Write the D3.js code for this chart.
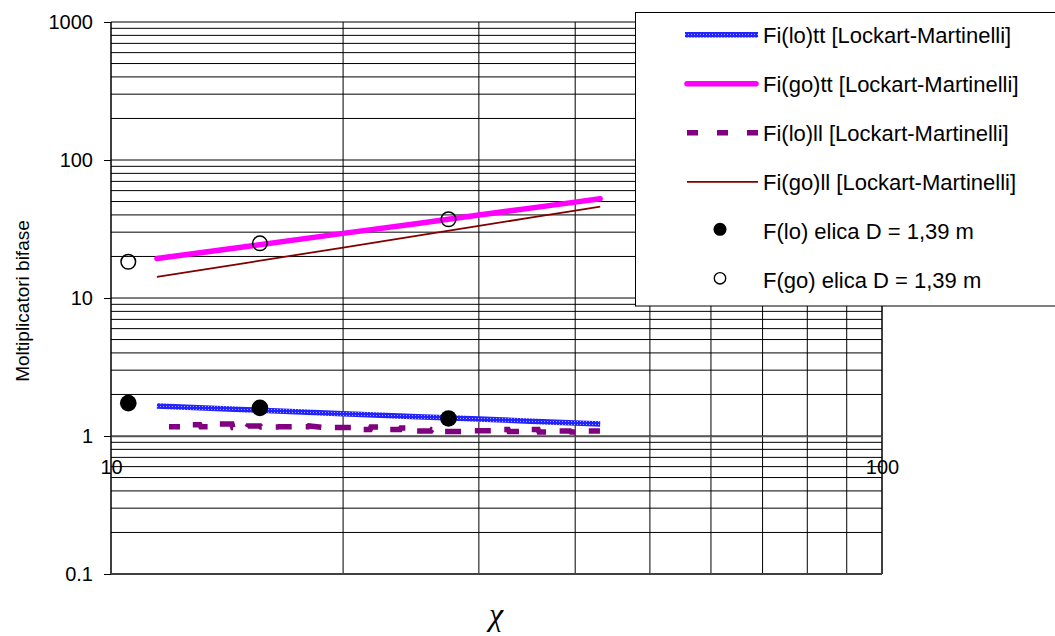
<!DOCTYPE html>
<html>
<head>
<meta charset="utf-8">
<script src="https://cdn.jsdelivr.net/npm/d3@7"></script>
<style>
  html, body { margin: 0; padding: 0; background: #fff; }
  svg { display: block; }
  text { font-family: Arial, "Liberation Sans", sans-serif; fill: #000; }
</style>
</head>
<body>
<svg id="chart" width="1055" height="636"></svg>
<script>
// ---- data ----
const lineX   = [11.47, 15, 20, 25, 30, 35, 40, 43.1];
const fiLoTT  = [1.65, 1.55, 1.45, 1.38, 1.33, 1.28, 1.24, 1.22];
const fiGoTT  = [19.3, 23.6, 29.4, 34.7, 39.9, 44.8, 49.5, 52.4];
const fiGoLL  = [14.2, 18.0, 23.2, 28.3, 33.3, 38.2, 42.9, 45.9];
const fiLoLLx = [11.89, 12.51, 12.55, 13.04, 13.08, 13.76, 13.81, 14.35, 14.39, 15.01, 15.05, 15.61, 15.65, 16.47, 16.52, 18.01, 18.05, 19.35, 19.41, 20.54, 20.60, 21.68, 21.74, 22.47, 22.53, 23.71, 23.77, 24.79, 24.86, 26.00, 26.08, 26.71, 26.79, 28.61, 28.70, 31.29, 31.39, 32.73, 32.83, 34.33, 34.43, 35.80, 35.91, 37.55, 37.66, 39.39, 39.51, 41.19, 41.31, 43.07];
const fiLoLL  = [1.168, 1.168, 1.207, 1.207, 1.168, 1.168, 1.222, 1.222, 1.152, 1.152, 1.182, 1.182, 1.162, 1.162, 1.168, 1.168, 1.182, 1.133, 1.152, 1.152, 1.115, 1.115, 1.162, 1.162, 1.115, 1.115, 1.143, 1.143, 1.087, 1.087, 1.115, 1.115, 1.078, 1.078, 1.092, 1.092, 1.115, 1.115, 1.078, 1.078, 1.115, 1.115, 1.069, 1.069, 1.087, 1.087, 1.069, 1.069, 1.087, 1.087];
const elicaX   = [10.53, 15.6, 27.4];
const fLoElica = [1.73, 1.60, 1.34];
const fGoElica = [18.3, 24.9, 37.2];
const yTickValues = [0.1, 1, 10, 100, 1000];
const yTickLabels = ["0.1", "1", "10", "100", "1000"];
const xTickValues = [10, 100];
const xTickLabels = ["10", "100"];
const legendLabels = [
  "Fi(lo)tt [Lockart-Martinelli]",
  "Fi(go)tt [Lockart-Martinelli]",
  "Fi(lo)ll [Lockart-Martinelli]",
  "Fi(go)ll [Lockart-Martinelli]",
  "F(lo) elica D = 1,39 m",
  "F(go) elica D = 1,39 m"
];

// ---- layout ----
const svg = d3.select("#chart");
const L = 111, R = 882, T = 22, B = 574;
const x = d3.scaleLog().domain([10, 100]).range([L, R]);
const y = d3.scaleLog().domain([0.1, 1000]).range([B, T]);

const defs = svg.append("defs");
const pat = defs.append("pattern").attr("id", "bluetex")
  .attr("width", 3).attr("height", 3).attr("patternUnits", "userSpaceOnUse");
pat.append("rect").attr("width", 3).attr("height", 3).attr("fill", "#2323ff");
pat.append("rect").attr("x", 1).attr("y", 1).attr("width", 1).attr("height", 1).attr("fill", "#a8a8ff");

// gridlines
const grid = svg.append("g");
grid.selectAll("line.h").data(y.ticks()).enter().append("line")
  .attr("x1", L).attr("x2", R)
  .attr("y1", d => y(d)).attr("y2", d => y(d))
  .attr("stroke", "#000").attr("stroke-width", 1);
grid.selectAll("line.v").data(x.ticks()).enter().append("line")
  .attr("y1", T).attr("y2", B)
  .attr("x1", d => x(d)).attr("x2", d => x(d))
  .attr("stroke", "#000").attr("stroke-width", 1);

// frame
svg.append("line").attr("x1", L).attr("x2", L).attr("y1", T).attr("y2", B).attr("stroke", "#000");
svg.append("line").attr("x1", R).attr("x2", R).attr("y1", T).attr("y2", B).attr("stroke", "#000");
svg.append("line").attr("x1", L).attr("x2", R).attr("y1", B).attr("y2", B).attr("stroke", "#404040").attr("stroke-width", 2);

// y axis
const yAxis = svg.append("g").attr("transform", `translate(${L},0)`)
  .call(d3.axisLeft(y).tickValues(yTickValues).tickSize(7).tickPadding(11)
    .tickFormat((d, i) => yTickLabels[i]));
yAxis.select(".domain").remove();
yAxis.selectAll(".tick line").attr("stroke", "#000");
yAxis.selectAll("text").attr("font-size", 20).attr("font-family", "Arial, 'Liberation Sans', sans-serif").attr("fill", "#000");

// x axis (crosses at y = 1)
const xAxis = svg.append("g").attr("transform", `translate(0,${y(1)})`)
  .call(d3.axisBottom(x).tickValues(xTickValues).tickSize(0).tickPadding(24)
    .tickFormat((d, i) => xTickLabels[i]));
xAxis.select(".domain").attr("stroke", "#555").attr("stroke-width", 1.5);
xAxis.selectAll("text").attr("font-size", 20).attr("font-family", "Arial, 'Liberation Sans', sans-serif").attr("fill", "#000");

// series
const line = d3.line().x(d => x(d[0])).y(d => y(d[1]));
const zip = (a, b) => a.map((v, i) => [v, b[i]]);

svg.append("path").datum(zip(lineX, fiLoTT)).attr("d", line)
  .attr("fill", "none").attr("stroke", "url(#bluetex)").attr("stroke-width", 5.5);
svg.append("path").datum(zip(lineX, fiGoTT)).attr("d", line)
  .attr("fill", "none").attr("stroke", "#ff00ff").attr("stroke-width", 5.5).attr("stroke-linecap", "round");
svg.append("path").datum(zip(fiLoLLx, fiLoLL)).attr("d", line)
  .attr("fill", "none").attr("stroke", "#800080").attr("stroke-width", 5.5)
  .attr("stroke-dasharray", "16,14").attr("stroke-dashoffset", 5);
svg.append("path").datum(zip(lineX, fiGoLL)).attr("d", line)
  .attr("fill", "none").attr("stroke", "#800000").attr("stroke-width", 1.8);

svg.append("g").selectAll("circle").data(zip(elicaX, fLoElica)).enter().append("circle")
  .attr("cx", d => x(d[0])).attr("cy", d => y(d[1])).attr("r", 8.3).attr("fill", "#000");
svg.append("g").selectAll("circle").data(zip(elicaX, fGoElica)).enter().append("circle")
  .attr("cx", d => x(d[0])).attr("cy", d => y(d[1])).attr("r", 7.3)
  .attr("fill", "none").attr("stroke", "#000").attr("stroke-width", 1.5);

// legend
const lg = svg.append("g");
lg.append("rect").attr("x", 635.5).attr("y", 12.5).attr("width", 430).attr("height", 293.5)
  .attr("fill", "#fff").attr("stroke", "#000").attr("stroke-width", 1);
const base = i => 43.3 + i * 49;
const lx1 = 685, lx2 = 758;
lg.append("line").attr("x1", lx1).attr("x2", lx2).attr("y1", base(0) - 8.5).attr("y2", base(0) - 8.5)
  .attr("stroke", "url(#bluetex)").attr("stroke-width", 5.5);
lg.append("line").attr("x1", lx1 + 2).attr("x2", lx2 - 2).attr("y1", base(1) - 8.5).attr("y2", base(1) - 8.5)
  .attr("stroke", "#ff00ff").attr("stroke-width", 5.5).attr("stroke-linecap", "round");
lg.append("line").attr("x1", lx1 + 2).attr("x2", lx2).attr("y1", base(2) - 8.5).attr("y2", base(2) - 8.5)
  .attr("stroke", "#800080").attr("stroke-width", 5.5).attr("stroke-dasharray", "11,19");
lg.append("line").attr("x1", lx1 + 2).attr("x2", lx2).attr("y1", base(3) - 8.5).attr("y2", base(3) - 8.5)
  .attr("stroke", "#800000").attr("stroke-width", 1.8);
lg.append("circle").attr("cx", 720).attr("cy", base(4) - 10).attr("r", 6.5).attr("fill", "#000");
lg.append("circle").attr("cx", 720).attr("cy", base(5) - 10).attr("r", 5.7)
  .attr("fill", "none").attr("stroke", "#000").attr("stroke-width", 1.4);
lg.selectAll("text.lab").data(legendLabels).enter().append("text")
  .attr("x", 763).attr("y", (d, i) => base(i)).attr("font-size", 22).text(d => d);

// axis titles
svg.append("text").attr("transform", "translate(29,301) rotate(-90)")
  .attr("text-anchor", "middle").attr("font-size", 19).text("Moltiplicatori bifase");
svg.append("text").attr("x", 496).attr("y", 625).attr("text-anchor", "middle")
  .attr("font-size", 32).style("font-style", "italic")
  .style("font-family", "'Liberation Serif', 'DejaVu Serif', serif").text("χ");
</script>
</body>
</html>
